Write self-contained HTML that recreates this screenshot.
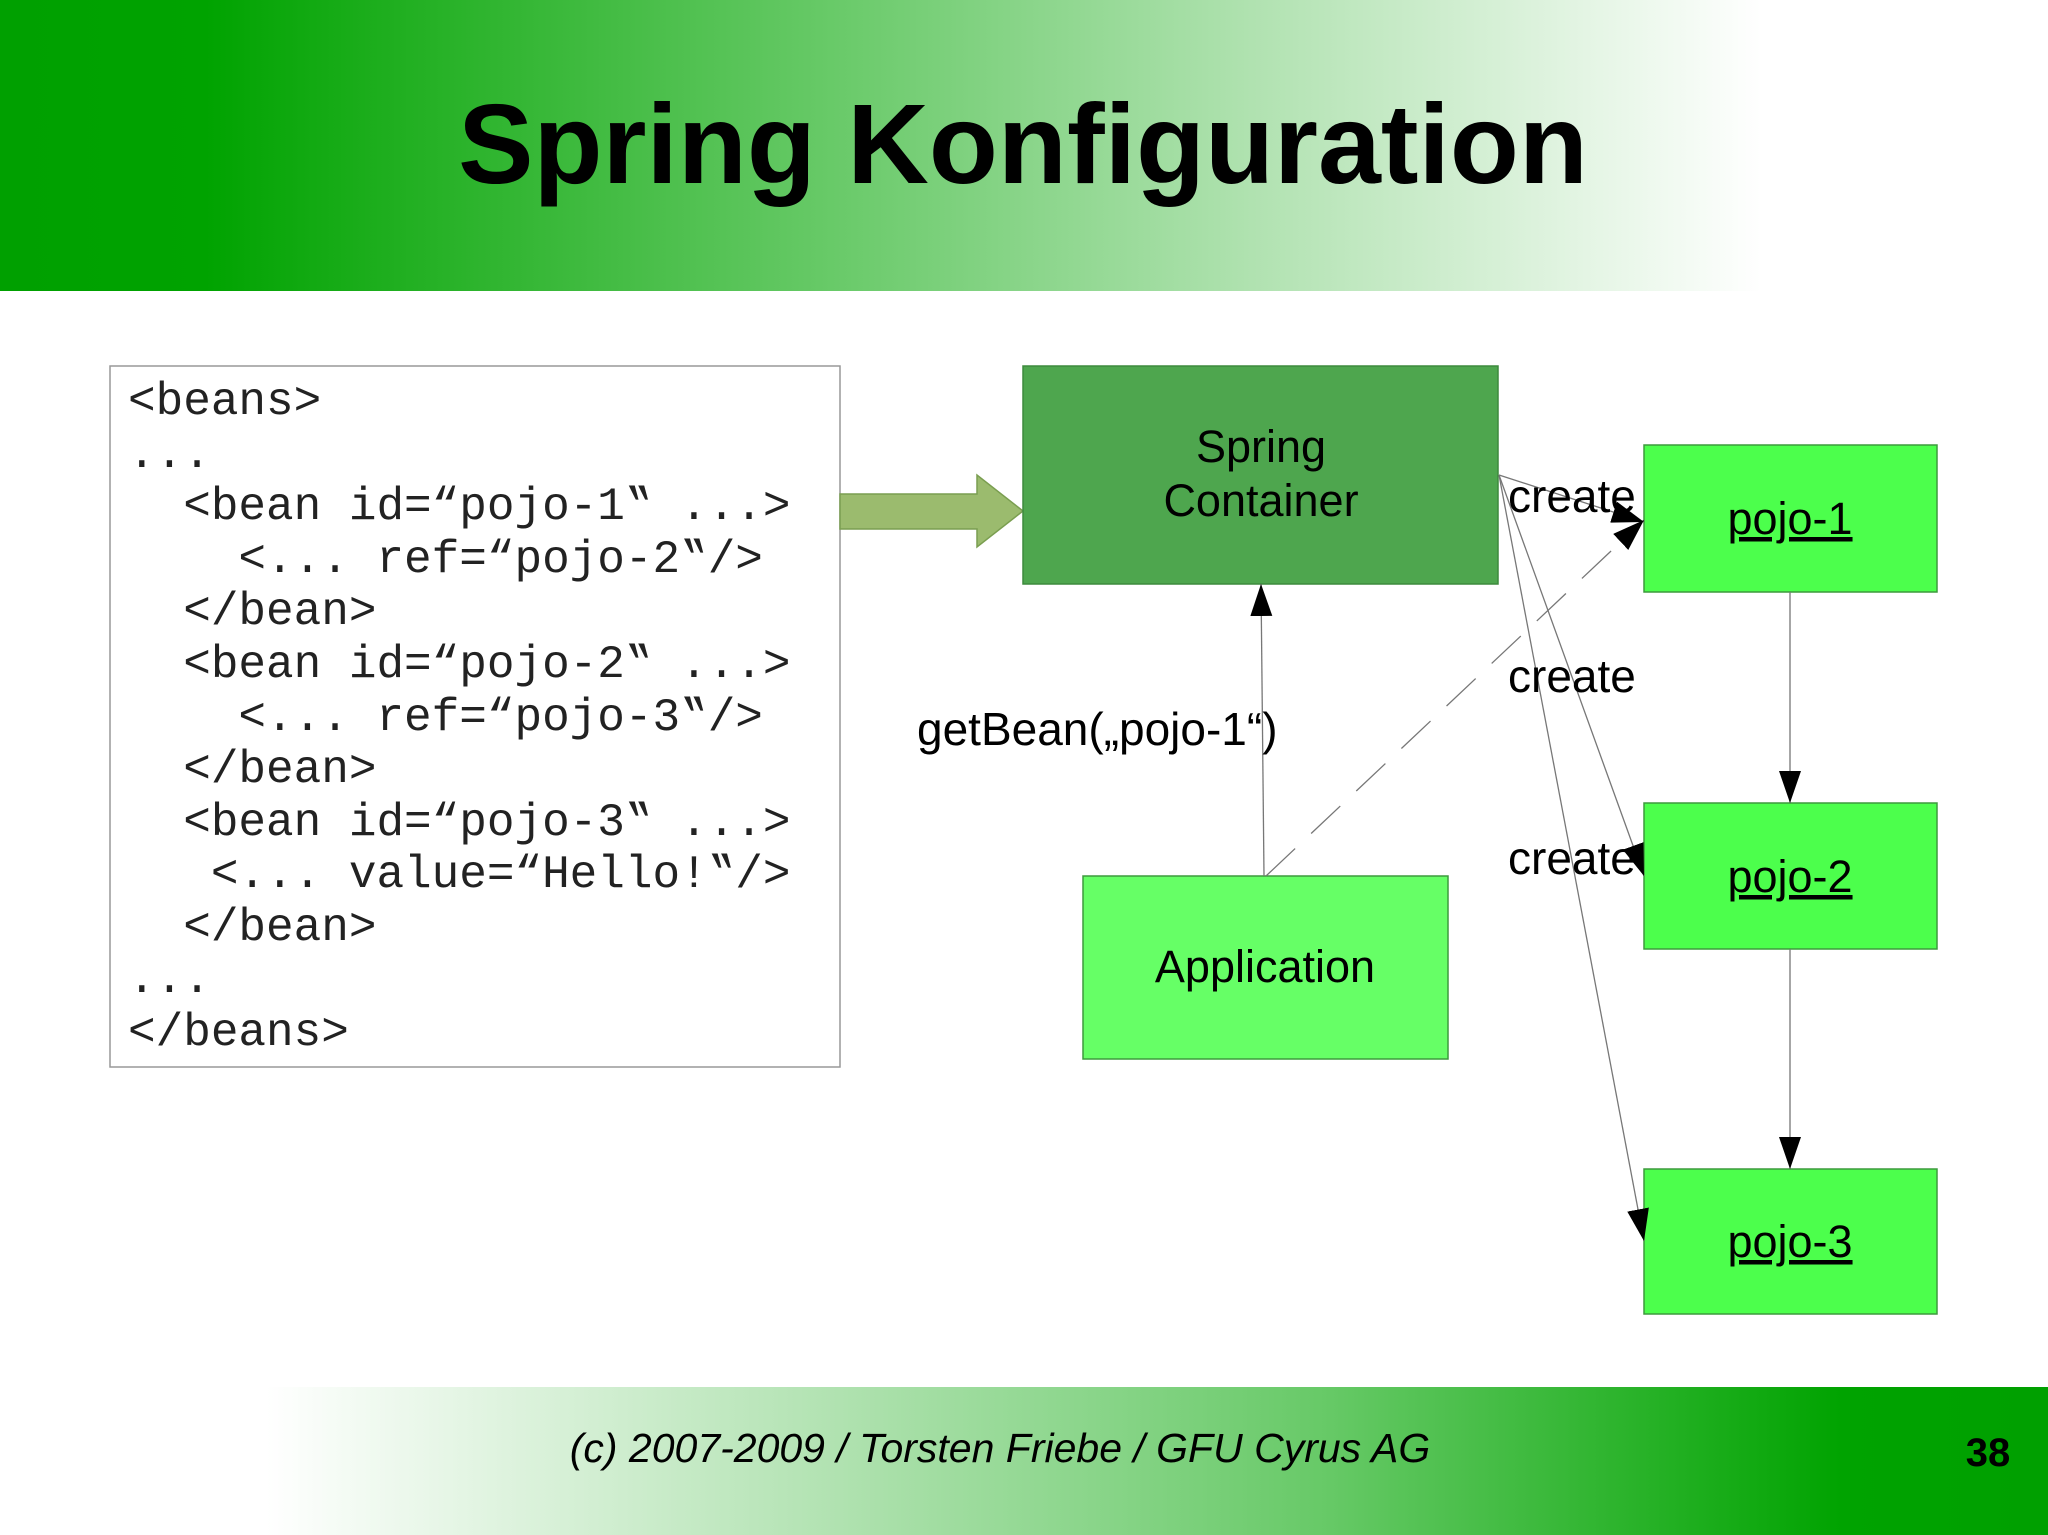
<!DOCTYPE html>
<html><head><meta charset="utf-8"><style>
html,body{margin:0;padding:0;background:#fff}
svg{display:block}
.code text{white-space:pre}
</style></head><body>
<svg width="2048" height="1535" viewBox="0 0 2048 1535" xmlns="http://www.w3.org/2000/svg">
<defs>
<linearGradient id="hg" x1="0" x2="1" y1="0" y2="0">
<stop offset="0" stop-color="#00a000"/><stop offset="0.1" stop-color="#00a300"/>
<stop offset="0.4" stop-color="#66c966"/><stop offset="0.62" stop-color="#b3e3b3"/>
<stop offset="0.86" stop-color="#ffffff"/><stop offset="1" stop-color="#ffffff"/>
</linearGradient>
<linearGradient id="fg" x1="0" x2="1" y1="0" y2="0">
<stop offset="0" stop-color="#ffffff"/><stop offset="0.13" stop-color="#ffffff"/>
<stop offset="0.4" stop-color="#b3e3b3"/><stop offset="0.65" stop-color="#66c966"/>
<stop offset="0.9" stop-color="#00a300"/><stop offset="1" stop-color="#00a000"/>
</linearGradient>
<marker id="ab" markerWidth="32" markerHeight="22" refX="32" refY="11" orient="auto" markerUnits="userSpaceOnUse">
<path d="M0,0 L32,11 L0,22 z" fill="#000"/>
</marker>
</defs>
<rect x="0" y="0" width="2048" height="291" fill="url(#hg)"/>
<text x="1023" y="183" text-anchor="middle" font-family="Liberation Sans, sans-serif" font-weight="bold" font-size="113">Spring Konfiguration</text>

<rect x="110" y="366" width="730" height="701" fill="#fff" stroke="#999" stroke-width="1.5"/>
<g class="code" font-family="Liberation Mono, monospace" font-size="46" fill="#222">
<text x="128" y="414">&lt;beans&gt;</text>
<text x="128" y="467">...</text>
<text x="128" y="519">  &lt;bean id=“pojo-1‟ ...&gt;</text>
<text x="128" y="572">    &lt;... ref=“pojo-2‟/&gt;</text>
<text x="128" y="624">  &lt;/bean&gt;</text>
<text x="128" y="677">  &lt;bean id=“pojo-2‟ ...&gt;</text>
<text x="128" y="730">    &lt;... ref=“pojo-3‟/&gt;</text>
<text x="128" y="782">  &lt;/bean&gt;</text>
<text x="128" y="835">  &lt;bean id=“pojo-3‟ ...&gt;</text>
<text x="128" y="887">   &lt;... value=“Hello!‟/&gt;</text>
<text x="128" y="940">  &lt;/bean&gt;</text>
<text x="128" y="992">...</text>
<text x="128" y="1045">&lt;/beans&gt;</text>
</g>

<path d="M840,494 L977,494 L977,475 L1023,511 L977,547 L977,529 L840,529 z" fill="#9bbb6e" stroke="#7a9e50" stroke-width="1.5"/>

<rect x="1023" y="366" width="475" height="218" fill="#4ea64e" stroke="#3d8a3d" stroke-width="1.5"/>
<g font-family="Liberation Sans, sans-serif" font-size="45" text-anchor="middle" fill="#000">
<text x="1261" y="462">Spring</text>
<text x="1261" y="516">Container</text>
</g>

<rect x="1083" y="876" width="365" height="183" fill="#66ff66" stroke="#3d9a3d" stroke-width="1.5"/>
<text x="1265" y="982" font-family="Liberation Sans, sans-serif" font-size="45" text-anchor="middle">Application</text>

<g fill="#4cff4c" stroke="#3d9a3d" stroke-width="1.5">
<rect x="1644" y="445" width="293" height="147"/>
<rect x="1644" y="803" width="293" height="146"/>
<rect x="1644" y="1169" width="293" height="145"/>
</g>
<g font-family="Liberation Sans, sans-serif" font-size="45" text-anchor="middle" text-decoration="underline">
<text x="1790" y="534">pojo-1</text>
<text x="1790" y="892">pojo-2</text>
<text x="1790" y="1257">pojo-3</text>
</g>

<g stroke="#777" stroke-width="1.3" fill="none">
<line x1="1790" y1="592" x2="1790" y2="803" marker-end="url(#ab)"/>
<line x1="1790" y1="949" x2="1790" y2="1169" marker-end="url(#ab)"/>
<line x1="1264" y1="876" x2="1261" y2="584" marker-end="url(#ab)"/>
<line x1="1499" y1="475" x2="1644" y2="522" marker-end="url(#ab)"/>
<line x1="1499" y1="475" x2="1644" y2="876" marker-end="url(#ab)"/>
<line x1="1499" y1="475" x2="1644" y2="1241" marker-end="url(#ab)"/>
<line x1="1266" y1="876" x2="1644" y2="520" stroke-dasharray="40,22" marker-end="url(#ab)"/>
</g>

<g font-family="Liberation Sans, sans-serif" font-size="46" fill="#000">
<text x="1508" y="512">create</text>
<text x="1508" y="692">create</text>
<text x="1508" y="874">create</text>
<text x="917" y="745">getBean(„pojo-1“)</text>
</g>

<rect x="0" y="1387" width="2048" height="148" fill="url(#fg)"/>
<text x="1000" y="1462" text-anchor="middle" font-family="Liberation Sans, sans-serif" font-style="italic" font-size="41">(c) 2007-2009 / Torsten Friebe / GFU Cyrus AG</text>
<text x="1988" y="1466" text-anchor="middle" font-family="Liberation Sans, sans-serif" font-weight="bold" font-size="40">38</text>
</svg>
</body></html>
